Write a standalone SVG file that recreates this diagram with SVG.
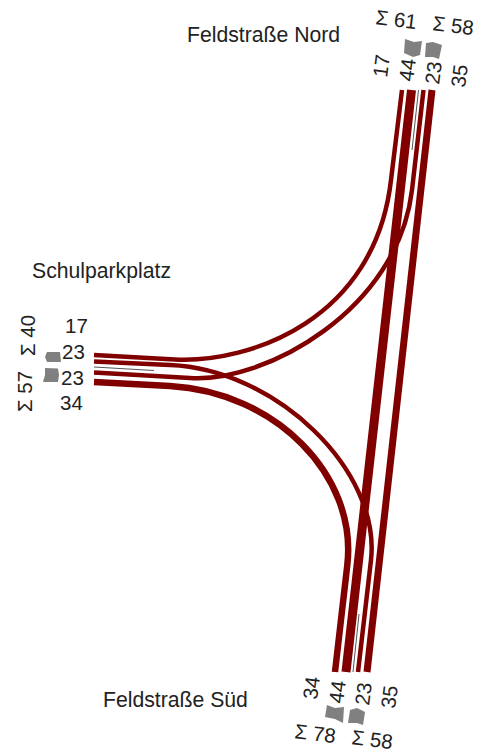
<svg xmlns="http://www.w3.org/2000/svg" width="481" height="755" viewBox="0 0 481 755">
<style>
text{font-family:"Liberation Sans",Arial,sans-serif;font-size:20.5px;fill:#222}
.l{font-size:21.2px}
.f{fill:none;stroke:#800000;stroke-linecap:butt}
.g{fill:none;stroke:#555;stroke-width:1}
.m{fill:#808080;stroke:none}
</style>
<rect width="481" height="755" fill="#fff"/>
<g id="connectors">
<path class="f" stroke-width="4.500" d="M94 355L175 359.500C250 363 375 320 391 180L402 90"/>
<path class="f" stroke-width="4.500" d="M94 361.500L170 365C275 369 381 470 371 560L358 672"/>
<path class="f" stroke-width="4.500" d="M94 372.500L190 378C265 383 398 310 412 190L423.500 90"/>
<path class="f" stroke-width="6.500" d="M94 382L170 386C275 392 357.700 475 347.300 565L335 672"/>
<path class="f" stroke-width="9" d="M411.500 90L346 672"/>
<path class="f" stroke-width="7" d="M432 90L367 672"/>
<path class="g" d="M418.500 90L412 150"/>
<path class="g" d="M353 672L359 614"/>
<path class="g" d="M94 367L154 370.500"/>
</g>
<g id="node-north">
<text x="187" y="42" class="l">Feldstraße Nord</text>
<path class="m" d="M405 39L414 42L422 41L420 55L413 57L404 53Z"/>
<path class="m" d="M426 43L433 42L442 45L439 59L433 57L425 57Z"/>
<text transform="translate(387 78) rotate(-83)">17</text>
<text transform="translate(413 82) rotate(-83)">44</text>
<text transform="translate(439 85) rotate(-83)">23</text>
<text transform="translate(465 88) rotate(-83)">35</text>
<text transform="translate(375 24) rotate(7)">Σ 61</text>
<text transform="translate(432 30) rotate(7)">Σ 58</text>
</g>
<g id="node-west">
<text x="32" y="278" class="l">Schulparkplatz</text>
<path class="m" d="M47 352L60 352L61 362L47 362L45 357Z"/>
<path class="m" d="M45 368L58 368.500L59 375L58 382L43 382L45 375Z"/>
<text x="65" y="333">17</text>
<text x="62" y="359">23</text>
<text x="61" y="385">23</text>
<text x="60" y="410">34</text>
<text transform="translate(35 356) rotate(-90)">Σ 40</text>
<text transform="translate(32 412) rotate(-90)">Σ 57</text>
</g>
<g id="node-south">
<text x="103" y="707" class="l">Feldstraße Süd</text>
<path class="m" d="M327 705L335 708L344 707L343 723L335 719L325 717Z"/>
<path class="m" d="M350 710L357 708L365 712L363 725L357 723L348 723Z"/>
<text transform="translate(317 700) rotate(-83)">34</text>
<text transform="translate(343 704) rotate(-83)">44</text>
<text transform="translate(369 706) rotate(-83)">23</text>
<text transform="translate(395 709) rotate(-83)">35</text>
<text transform="translate(294 738) rotate(7)">Σ 78</text>
<text transform="translate(351 744) rotate(7)">Σ 58</text>
</g>
</svg>
